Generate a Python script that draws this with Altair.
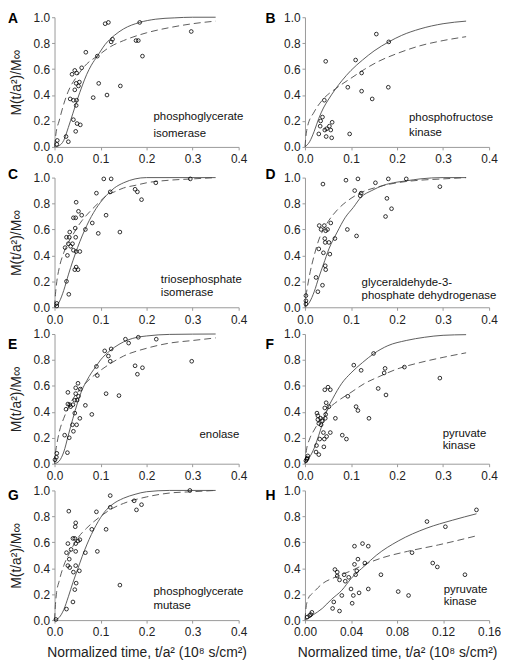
import altair as alt
import pandas as pd

FONT = "Liberation Sans"
W, H = 186, 131

Y_TITLE = "M(t/a²)/M∞"
X_TITLE = "Normalized time, t/a² (10⁸ s/cm²)"
Y_TICKS = [0, 0.2, 0.4, 0.6, 0.8, 1.0]
X_TICKS = [0, 0.1, 0.2, 0.3, 0.4]
H_TICKS = [0, 0.04, 0.08, 0.12, 0.16]

# ---------------- Panel A: phosphoglycerate isomerase ----------------
A_x = [0.005, 0.006, 0.025, 0.030, 0.034, 0.038, 0.044, 0.048, 0.044, 0.047, 0.054, 0.052,
       0.041, 0.048, 0.047, 0.041, 0.049, 0.056, 0.046, 0.059, 0.068, 0.084, 0.093, 0.096,
       0.110, 0.117, 0.114, 0.123, 0.126, 0.143, 0.177, 0.182, 0.185, 0.191, 0.297]
A_y = [0.02, 0.05, 0.08, 0.04, 0.37, 0.56, 0.59, 0.57, 0.44, 0.49, 0.50, 0.47,
       0.36, 0.36, 0.32, 0.21, 0.18, 0.17, 0.12, 0.61, 0.73, 0.38, 0.70, 0.49,
       0.95, 0.96, 0.40, 0.81, 0.83, 0.47, 0.82, 0.82, 0.96, 0.70, 0.89]
A_sol_x = [0, 0.01, 0.02, 0.03, 0.04, 0.05, 0.06, 0.07, 0.08, 0.093, 0.11, 0.13, 0.15, 0.185, 0.22, 0.26, 0.3, 0.35]
A_sol_y = [0, 0.01, 0.05, 0.15, 0.26, 0.37, 0.47, 0.56, 0.63, 0.70, 0.79, 0.86, 0.91, 0.96, 0.985, 0.995, 1.0, 1.0]
A_das_x = [0, 0.003, 0.01, 0.02, 0.03, 0.05, 0.07, 0.093, 0.12, 0.15, 0.2, 0.25, 0.3, 0.35]
A_das_y = [0, 0.1, 0.2, 0.33, 0.43, 0.55, 0.64, 0.70, 0.77, 0.82, 0.88, 0.92, 0.95, 0.97]

# ---------------- Panel B: phosphofructose kinase ----------------
B_x = [0.030, 0.033, 0.034, 0.038, 0.043, 0.047, 0.046, 0.053, 0.056, 0.058, 0.059,
       0.042, 0.045, 0.093, 0.097, 0.110, 0.123, 0.123, 0.146, 0.155, 0.182, 0.181]
B_y = [0.10, 0.16, 0.20, 0.23, 0.13, 0.14, 0.08, 0.16, 0.13, 0.07, 0.19,
       0.36, 0.66, 0.46, 0.10, 0.67, 0.57, 0.43, 0.37, 0.87, 0.81, 0.46]
B_sol_x = [0, 0.01, 0.02, 0.03, 0.04, 0.05, 0.067, 0.08, 0.1, 0.125, 0.15, 0.182, 0.21, 0.25, 0.3, 0.35]
B_sol_y = [0, 0.04, 0.12, 0.22, 0.30, 0.36, 0.45, 0.51, 0.59, 0.67, 0.74, 0.81, 0.86, 0.91, 0.95, 0.97]
B_das_x = [0, 0.002, 0.005, 0.02, 0.04, 0.067, 0.1, 0.13, 0.16, 0.2, 0.25, 0.3, 0.35]
B_das_y = [0, 0.08, 0.15, 0.27, 0.37, 0.45, 0.53, 0.60, 0.66, 0.72, 0.78, 0.82, 0.85]

# ---------------- Panel C: triosephosphate isomerase ----------------
C_x = [0.005, 0.005, 0.026, 0.031, 0.023, 0.026, 0.028, 0.030, 0.032, 0.033, 0.035, 0.039, 0.041,
       0.046, 0.047, 0.041, 0.045, 0.046, 0.047, 0.044, 0.047, 0.051, 0.052, 0.055, 0.059, 0.067,
       0.082, 0.091, 0.095, 0.107, 0.112, 0.121, 0.123, 0.142, 0.175, 0.180, 0.189, 0.220, 0.295]
C_y = [0.03, 0.01, 0.20, 0.10, 0.46, 0.54, 0.40, 0.49, 0.54, 0.58, 0.47, 0.49, 0.69,
       0.69, 0.81, 0.44, 0.61, 0.54, 0.43, 0.29, 0.31, 0.29, 0.74, 0.43, 0.71, 0.60,
       0.65, 0.88, 0.57, 0.99, 0.71, 0.89, 0.99, 0.58, 0.91, 0.89, 0.83, 0.96, 0.99]
C_sol_x = [0, 0.01, 0.02, 0.03, 0.04, 0.05, 0.06, 0.07, 0.08, 0.09, 0.1, 0.112, 0.13, 0.15, 0.175, 0.2, 0.35]
C_sol_y = [0, 0.04, 0.13, 0.25, 0.36, 0.46, 0.55, 0.63, 0.70, 0.76, 0.81, 0.86, 0.92, 0.96, 0.99, 1.0, 1.0]
C_das_x = [0, 0.002, 0.005, 0.01, 0.02, 0.03, 0.04, 0.05, 0.06, 0.08, 0.1, 0.112, 0.13, 0.15, 0.175, 0.2, 0.25, 0.3, 0.35]
C_das_y = [0, 0.1, 0.2, 0.3, 0.42, 0.50, 0.56, 0.62, 0.67, 0.75, 0.82, 0.86, 0.89, 0.92, 0.94, 0.96, 0.98, 0.99, 1.0]

# ---------------- Panel D: glyceraldehyde-3-phosphate dehydrogenase ----------------
D_x = [0.002, 0.002, 0.002, 0.024, 0.028, 0.030, 0.031, 0.035, 0.038, 0.039, 0.040, 0.042,
       0.043, 0.044, 0.044, 0.045, 0.045, 0.049, 0.052, 0.054, 0.056, 0.065, 0.089, 0.092,
       0.108, 0.112, 0.115, 0.120, 0.122, 0.153, 0.175, 0.178, 0.181, 0.188, 0.220, 0.293]
D_y = [0.09, 0.05, 0.025, 0.23, 0.12, 0.45, 0.63, 0.60, 0.17, 0.95, 0.42, 0.63,
       0.53, 0.50, 0.32, 0.29, 0.59, 0.60, 0.50, 0.41, 0.65, 0.53, 0.98, 0.60,
       0.90, 0.55, 0.99, 0.86, 0.88, 0.96, 0.70, 0.84, 0.99, 0.76, 0.99, 0.93]
D_sol_x = [0, 0.01, 0.02, 0.03, 0.04, 0.052, 0.07, 0.087, 0.105, 0.122, 0.145, 0.17, 0.2, 0.22, 0.25, 0.3, 0.35]
D_sol_y = [0, 0.04, 0.12, 0.23, 0.33, 0.45, 0.58, 0.69, 0.77, 0.85, 0.90, 0.94, 0.965, 0.975, 0.99, 1.0, 1.0]
D_das_x = [0, 0.002, 0.005, 0.01, 0.02, 0.03, 0.04, 0.05, 0.07, 0.1, 0.125, 0.15, 0.2, 0.22, 0.25, 0.3, 0.35]
D_das_y = [0, 0.08, 0.15, 0.25, 0.40, 0.52, 0.60, 0.66, 0.75, 0.84, 0.89, 0.92, 0.96, 0.97, 0.98, 0.99, 1.0]

# ---------------- Panel E: enolase ----------------
E_x = [0.001, 0.004, 0.005, 0.022, 0.025, 0.028, 0.029, 0.029, 0.032, 0.033, 0.035, 0.039, 0.040, 0.041,
       0.044, 0.044, 0.046, 0.046, 0.048, 0.049, 0.051, 0.052, 0.055, 0.056, 0.067, 0.081, 0.091, 0.093,
       0.109, 0.112, 0.117, 0.121, 0.123, 0.140, 0.154, 0.161, 0.175, 0.180, 0.182, 0.191, 0.221, 0.298]
E_y = [0.03, 0.05, 0.08, 0.22, 0.42, 0.085, 0.55, 0.46, 0.20, 0.455, 0.44, 0.30, 0.455, 0.25,
       0.49, 0.39, 0.585, 0.54, 0.30, 0.49, 0.62, 0.52, 0.35, 0.575, 0.45, 0.38, 0.75, 0.68,
       0.87, 0.54, 0.83, 0.79, 0.885, 0.525, 0.96, 0.93, 0.755, 0.69, 0.975, 0.74, 0.96, 0.79]
E_sol_x = [0, 0.01, 0.02, 0.03, 0.04, 0.05, 0.06, 0.07, 0.08, 0.09, 0.1, 0.12, 0.14, 0.16, 0.18, 0.2, 0.25, 0.35]
E_sol_y = [0, 0.02, 0.09, 0.22, 0.35, 0.47, 0.57, 0.64, 0.70, 0.75, 0.80, 0.87, 0.92, 0.955, 0.975, 0.985, 0.997, 1.0]
E_das_x = [0, 0.002, 0.005, 0.01, 0.02, 0.03, 0.04, 0.05, 0.07, 0.1, 0.125, 0.15, 0.2, 0.25, 0.3, 0.35]
E_das_y = [0, 0.08, 0.15, 0.24, 0.35, 0.43, 0.50, 0.55, 0.63, 0.72, 0.78, 0.83, 0.89, 0.93, 0.95, 0.97]

# ---------------- Panel F / H: pyruvate kinase ----------------
F_x = [0.002, 0.004, 0.005, 0.006, 0.024, 0.025, 0.026, 0.028, 0.028, 0.030, 0.030, 0.032, 0.034, 0.035,
       0.038, 0.040, 0.041, 0.042, 0.043, 0.043, 0.044, 0.045, 0.046, 0.047, 0.050, 0.052, 0.055, 0.055,
       0.066, 0.081, 0.090, 0.093, 0.106, 0.111, 0.115, 0.122, 0.139, 0.149, 0.159, 0.172, 0.174, 0.176,
       0.216, 0.293]
F_y = [0.023, 0.035, 0.043, 0.06, 0.09, 0.14, 0.39, 0.37, 0.34, 0.31, 0.07, 0.19, 0.35, 0.30,
       0.33, 0.24, 0.13, 0.19, 0.57, 0.43, 0.35, 0.38, 0.47, 0.21, 0.59, 0.44, 0.57, 0.24,
       0.35, 0.22, 0.19, 0.52, 0.76, 0.44, 0.41, 0.72, 0.35, 0.85, 0.58, 0.70, 0.735, 0.53,
       0.745, 0.66]
F_sol_x = [0, 0.01, 0.02, 0.03, 0.04, 0.05, 0.06, 0.08, 0.1, 0.125, 0.15, 0.18, 0.22, 0.26, 0.3, 0.35]
F_sol_y = [0, 0.05, 0.12, 0.22, 0.33, 0.43, 0.50, 0.62, 0.70, 0.78, 0.85, 0.91, 0.95, 0.975, 0.99, 0.995]
F_das_x = [0, 0.003, 0.01, 0.02, 0.03, 0.05, 0.07, 0.1, 0.13, 0.16, 0.2, 0.25, 0.3, 0.35]
F_das_y = [0, 0.1, 0.19, 0.26, 0.32, 0.42, 0.48, 0.55, 0.62, 0.67, 0.73, 0.78, 0.82, 0.855]
H_sol_x = [0, 0.007, 0.015, 0.023, 0.032, 0.04, 0.052, 0.062, 0.081, 0.106, 0.128, 0.149]
H_sol_y = [0, 0.04, 0.09, 0.16, 0.23, 0.32, 0.42, 0.50, 0.61, 0.71, 0.77, 0.82]
H_das_x = [0, 0.001, 0.003, 0.007, 0.015, 0.026, 0.04, 0.052, 0.067, 0.089, 0.116, 0.149]
H_das_y = [0, 0.1, 0.17, 0.21, 0.28, 0.33, 0.38, 0.43, 0.48, 0.53, 0.58, 0.65]
H_XMAX_DATA = 0.155  # panel H shows only the early time points

# ---------------- Panel G: phosphoglycerate mutase ----------------
G_x = [0.003, 0.026, 0.031, 0.026, 0.029, 0.029, 0.032, 0.033, 0.036, 0.040, 0.041, 0.040,
       0.044, 0.044, 0.045, 0.046, 0.046, 0.046, 0.046, 0.047, 0.051, 0.055, 0.054, 0.067,
       0.081, 0.091, 0.093, 0.112, 0.121, 0.121, 0.142, 0.173, 0.178, 0.189, 0.294]
G_y = [0.005, 0.085, 0.84, 0.52, 0.59, 0.42, 0.47, 0.405, 0.545, 0.63, 0.37, 0.14,
       0.63, 0.235, 0.72, 0.75, 0.59, 0.42, 0.53, 0.285, 0.61, 0.62, 0.38, 0.52,
       0.70, 0.835, 0.53, 0.70, 0.96, 0.87, 0.27, 0.92, 0.85, 0.89, 1.0]
G_sol_x = [0, 0.01, 0.02, 0.03, 0.04, 0.05, 0.06, 0.07, 0.08, 0.09, 0.1, 0.11, 0.125, 0.15, 0.175, 0.2, 0.25, 0.35]
G_sol_y = [0, 0.02, 0.08, 0.18, 0.29, 0.39, 0.49, 0.58, 0.66, 0.73, 0.79, 0.84, 0.89, 0.94, 0.97, 0.99, 1.0, 1.0]
G_das_x = [0, 0.002, 0.004, 0.01, 0.02, 0.03, 0.04, 0.05, 0.07, 0.1, 0.125, 0.15, 0.2, 0.25, 0.3, 0.35]
G_das_y = [0, 0.12, 0.2, 0.3, 0.42, 0.50, 0.57, 0.63, 0.71, 0.80, 0.86, 0.90, 0.95, 0.98, 0.99, 1.0]

# panel labels: (lines, x of left edge, y of first line, y of second line)
LABELS = {
    "A": (["phosphoglycerate", "isomerase"], 0.215, 0.23, 0.10),
    "B": (["phosphofructose", "kinase"], 0.226, 0.22, 0.11),
    "C": (["triosephosphate", "isomerase"], 0.231, 0.21, 0.11),
    "D": (["glyceraldehyde-3-", "phosphate dehydrogenase"], 0.123, 0.19, 0.09),
    "E": (["enolase"], 0.315, 0.22, None),
    "F": (["pyruvate", "kinase"], 0.299, 0.23, 0.14),
    "G": (["phosphoglycerate", "mutase"], 0.215, 0.215, 0.11),
    "H": (["pyruvate", "kinase"], 0.1206, 0.23, 0.14),
}
LETTER_DY = {"A": 2, "B": 2, "C": -3, "D": -3, "E": 11, "F": 11, "G": 6, "H": 6}

LINE_COLOR = "#4a4a4a"


def panel(letter, px, py, sx, sy, dx, dy, xmax, xticks, xfmt, left, bottom):
    xsc = alt.Scale(domain=[0, xmax], nice=False)
    ysc = alt.Scale(domain=[0, 1], nice=False)
    xax = alt.Axis(values=xticks, format=xfmt, title=X_TITLE if bottom else None,
                   titlePadding=8, labelPadding=4)
    yax = alt.Axis(values=Y_TICKS, format=".1f", title=Y_TITLE if left else None, titlePadding=10)
    X = alt.X("x:Q", scale=xsc, axis=xax)
    Y = alt.Y("y:Q", scale=ysc, axis=yax)

    pts = alt.Chart(pd.DataFrame({"x": px, "y": py})).mark_point(
        shape="circle", filled=False, color="black", size=14, strokeWidth=0.8, opacity=1
    ).encode(x=X, y=Y)
    sol = alt.Chart(pd.DataFrame({"x": sx, "y": sy})).mark_line(
        color=LINE_COLOR, strokeWidth=0.9, interpolate="monotone"
    ).encode(x=X, y=Y)
    das = alt.Chart(pd.DataFrame({"x": dx, "y": dy})).mark_line(
        color=LINE_COLOR, strokeWidth=0.9, interpolate="monotone", strokeDash=[7, 4]
    ).encode(x=X, y=Y)

    lines, lx, ly1, ly2 = LABELS[letter]
    ys_lab = [ly1] + ([ly2] if ly2 is not None else [])
    lab = alt.Chart(pd.DataFrame({"x": [lx] * len(lines), "y": ys_lab, "t": lines})).mark_text(
        align="left", baseline="middle", fontSize=11.5, font=FONT, color="#111"
    ).encode(x=X, y=Y, text="t:N")

    let = alt.Chart(pd.DataFrame({"k": [letter]})).mark_text(
        align="left", baseline="middle", fontSize=14, fontWeight="bold", font=FONT, color="black"
    ).encode(
        x=alt.value(-47 if left else -40),
        y=alt.value(LETTER_DY[letter]),
        text="k:N",
    )
    return alt.layer(sol, das, pts, lab, let).properties(width=W, height=H)


pA = panel("A", A_x, A_y, A_sol_x, A_sol_y, A_das_x, A_das_y, 0.4, X_TICKS, ".1f", True, False)
pB = panel("B", B_x, B_y, B_sol_x, B_sol_y, B_das_x, B_das_y, 0.4, X_TICKS, ".1f", False, False)
pC = panel("C", C_x, C_y, C_sol_x, C_sol_y, C_das_x, C_das_y, 0.4, X_TICKS, ".1f", True, False)
pD = panel("D", D_x, D_y, D_sol_x, D_sol_y, D_das_x, D_das_y, 0.4, X_TICKS, ".1f", False, False)
pE = panel("E", E_x, E_y, E_sol_x, E_sol_y, E_das_x, E_das_y, 0.4, X_TICKS, ".1f", True, False)
pF = panel("F", F_x, F_y, F_sol_x, F_sol_y, F_das_x, F_das_y, 0.4, X_TICKS, ".1f", False, False)
pG = panel("G", G_x, G_y, G_sol_x, G_sol_y, G_das_x, G_das_y, 0.4, X_TICKS, ".1f", True, True)

Hx = [x for x in F_x if x <= H_XMAX_DATA]
Hy = [y for x, y in zip(F_x, F_y) if x <= H_XMAX_DATA]
pH = panel("H", Hx, Hy, H_sol_x, H_sol_y, H_das_x, H_das_y, 0.16, H_TICKS, ".2f", False, True)

HSP = 18
rows = [
    alt.hconcat(pA, pB, spacing=HSP),
    alt.hconcat(pC, pD, spacing=HSP),
    alt.hconcat(pE, pF, spacing=HSP),
    alt.hconcat(pG, pH, spacing=HSP),
]

chart = (
    alt.vconcat(*rows, spacing=3)
    .properties(padding=0, background="white")
    .configure_axis(
        grid=False,
        domainColor="#9a9a9a",
        tickColor="#9a9a9a",
        tickSize=3,
        labelFlush=False,
        labelFont=FONT,
        labelFontSize=12,
        labelColor="#222",
        labelPadding=2,
        titleFont=FONT,
        titleFontSize=14,
        titleFontWeight="normal",
        titleColor="#222",
    )
    .configure_view(stroke=None)
)

chart.save("out.html", embed_options={"renderer": "svg", "actions": False})
